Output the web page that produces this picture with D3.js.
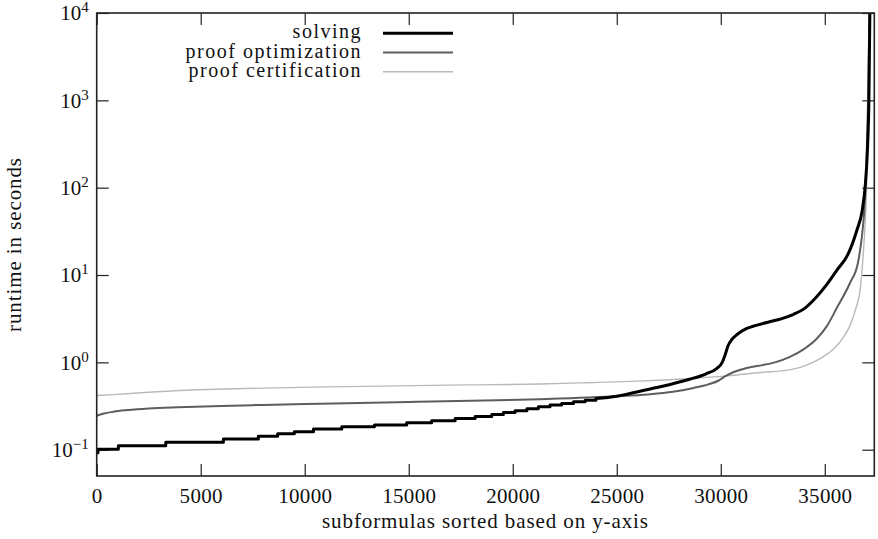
<!DOCTYPE html>
<html><head><meta charset="utf-8">
<script src="https://cdn.jsdelivr.net/npm/d3@7"></script>
<style>
body{margin:0;background:#fff}
svg text{font-family:"Liberation Serif","DejaVu Serif","Times New Roman",serif !important;fill:#111}
</style>
</head><body>
<svg id="c" width="878" height="539"></svg>
<script>
// ---------- data ----------
const xTicks = [0, 5000, 10000, 15000, 20000, 25000, 30000, 35000];
const yTickExps = [-1, 0, 1, 2, 3, 4];
const seriesNames = ["solving", "proof optimization", "proof certification"];

// solving: stepped part [index, seconds]
const solvingSteps = [
  [0, 0.092], [60, 0.101], [1040, 0.111], [3320, 0.122], [6090, 0.133],
  [7770, 0.143], [8700, 0.152], [9500, 0.161], [10420, 0.173], [11780, 0.183],
  [13350, 0.192], [14900, 0.203], [16100, 0.215], [17230, 0.228], [18190, 0.240],
  [18990, 0.253], [19550, 0.266], [20110, 0.280], [20680, 0.295], [21230, 0.310],
  [21790, 0.324], [22350, 0.338], [22920, 0.353], [23480, 0.369], [24000, 0.385]
];
// solving: smooth tail
const solvingTail = [
  [24000, 0.385], [25000, 0.41], [26500, 0.49], [27700, 0.57], [28500, 0.64],
  [29300, 0.74], [29800, 0.85], [30050, 0.98], [30200, 1.2], [30350, 1.55],
  [30550, 1.85], [30800, 2.1], [31200, 2.42], [31700, 2.65], [32300, 2.9],
  [32900, 3.15], [33500, 3.55], [34000, 4.1], [34600, 5.6], [35100, 7.8],
  [35600, 11.5], [36100, 17], [36550, 33], [36800, 55], [36950, 110],
  [37050, 270], [37120, 1000], [37170, 12000]
];
const optimization = [
  [0, 0.245], [300, 0.258], [800, 0.272], [1500, 0.284], [2500, 0.296],
  [3900, 0.306], [6000, 0.317], [8000, 0.326], [10000, 0.334], [12000, 0.341],
  [15000, 0.352], [18000, 0.363], [21300, 0.379], [23600, 0.395], [25000, 0.41],
  [26500, 0.43], [27700, 0.46], [28700, 0.51], [29400, 0.56], [29900, 0.62],
  [30200, 0.69], [30600, 0.77], [31000, 0.83], [31400, 0.88], [32000, 0.93],
  [32600, 1.0], [33300, 1.15], [34000, 1.42], [34600, 1.85], [35100, 2.6],
  [35600, 4.3], [36200, 8.0], [36600, 14], [36800, 30], [36900, 55],
  [37000, 180], [37080, 1000], [37150, 12000]
];
const certification = [
  [0, 0.417], [1000, 0.43], [2500, 0.455], [4000, 0.476], [8000, 0.507],
  [12000, 0.528], [17700, 0.553], [21300, 0.565], [23600, 0.585], [26000, 0.61],
  [28400, 0.65], [30300, 0.70], [31900, 0.765], [33300, 0.82], [34300, 0.97],
  [34900, 1.15], [35400, 1.4], [35900, 1.95], [36200, 2.6], [36500, 4.2],
  [36700, 6.8], [36860, 19], [36990, 70], [37060, 270], [37130, 2000], [37180, 12000]
];

// ---------- layout ----------
const FONT = '"Liberation Serif","DejaVu Serif","Times New Roman",serif';
const W = 878, H = 539;
const m = {l: 96.7, r: 3.7, t: 13, b: 63};
const iw = W - m.l - m.r, ih = H - m.t - m.b;
const svg = d3.select("#c");
const g = svg.append("g").attr("transform", `translate(${m.l},${m.t})`);

const x = d3.scaleLinear().domain([0, 37380]).range([0, iw]);
const y = d3.scaleLog().domain([0.05, 10000]).range([ih, 0]);
const yTicks = yTickExps.map(e => Math.pow(10, e));

svg.append("defs").append("clipPath").attr("id", "clip")
  .append("rect").attr("width", iw).attr("height", ih);

// axes (ticks inside, mirrored)
const tickStyle = sel => {
  sel.attr("font-family", FONT);
  sel.select(".domain").remove();
  sel.selectAll(".tick line").attr("stroke", "#222").attr("stroke-width", 1.2);
};
g.append("g").attr("transform", `translate(0,${ih})`)
  .call(d3.axisBottom(x).tickValues(xTicks).tickSizeInner(-12).tickSizeOuter(0).tickPadding(12).tickFormat(d3.format("d")))
  .call(tickStyle)
  .call(s => s.selectAll("text").attr("font-size", 21).attr("fill", "#111").attr("font-family", FONT)
      .attr("letter-spacing", 0.3));
g.append("g")
  .call(d3.axisTop(x).tickValues(xTicks).tickSizeInner(-12).tickSizeOuter(0).tickFormat(""))
  .call(tickStyle);
g.append("g").attr("transform", `translate(${iw},0)`)
  .call(d3.axisRight(y).tickValues(yTicks).tickSizeInner(-12).tickSizeOuter(0).tickFormat(""))
  .call(tickStyle);
const yAx = g.append("g")
  .call(d3.axisLeft(y).tickValues(yTicks).tickSizeInner(-12).tickSizeOuter(0).tickPadding(8).tickFormat(""))
  .call(tickStyle);
yAx.selectAll(".tick text").each(function(d) {
  const t = d3.select(this).attr("font-size", 21).attr("fill", "#111").attr("font-family", FONT);
  const e = Math.round(Math.log10(d));
  t.append("tspan").text("10");
  t.append("tspan").attr("font-size", 15).attr("dy", -8)
    .text(e < 0 ? "\u2212" + Math.abs(e) : String(e));
});

// lines
const plot = g.append("g").attr("clip-path", "url(#clip)");
const lineStep = d3.line().x(d => x(d[0])).y(d => y(d[1])).curve(d3.curveStepAfter);
const lineSmooth = d3.line().x(d => x(d[0])).y(d => y(d[1])).curve(d3.curveMonotoneX);
const styles = [
  {stroke: "#000", w: 3},
  {stroke: "#5e5e5e", w: 2},
  {stroke: "#b9b9b9", w: 1.4}
];
plot.append("path").datum(certification).attr("d", lineSmooth)
  .attr("fill", "none").attr("stroke", styles[2].stroke).attr("stroke-width", styles[2].w);
plot.append("path").datum(optimization).attr("d", lineSmooth)
  .attr("fill", "none").attr("stroke", styles[1].stroke).attr("stroke-width", styles[1].w);
plot.append("path").datum(solvingSteps).attr("d", lineStep)
  .attr("fill", "none").attr("stroke", styles[0].stroke).attr("stroke-width", styles[0].w)
  .attr("stroke-linejoin", "round");
plot.append("path").datum(solvingTail).attr("d", lineSmooth)
  .attr("fill", "none").attr("stroke", styles[0].stroke).attr("stroke-width", styles[0].w)
  .attr("stroke-linejoin", "round").attr("stroke-linecap", "round");

// frame
g.append("rect").attr("width", iw).attr("height", ih)
  .attr("fill", "none").attr("stroke", "#222").attr("stroke-width", 1.6);

// legend
const leg = svg.append("g").attr("font-family", FONT);
seriesNames.forEach((n, i) => {
  const ly = 33.3 + i * 19.2;
  leg.append("text").attr("x", 362).attr("y", ly + 5).attr("text-anchor", "end")
    .attr("font-family", FONT).attr("font-size", 20).attr("letter-spacing", 1.5).text(n);
  leg.append("line").attr("x1", 383).attr("x2", 453).attr("y1", ly).attr("y2", ly)
    .attr("stroke", styles[i].stroke).attr("stroke-width", styles[i].w);
});

// axis titles
svg.append("text").attr("x", m.l + iw / 2).attr("y", 528).attr("text-anchor", "middle")
  .attr("font-family", FONT).attr("font-size", 21).attr("letter-spacing", 0.9)
  .text("subformulas sorted based on y-axis");
svg.append("text").attr("transform", `translate(21,${m.t + ih / 2}) rotate(-90)`)
  .attr("text-anchor", "middle").attr("font-family", FONT).attr("font-size", 21).attr("letter-spacing", 0.9)
  .text("runtime in seconds");
</script>
</body></html>
